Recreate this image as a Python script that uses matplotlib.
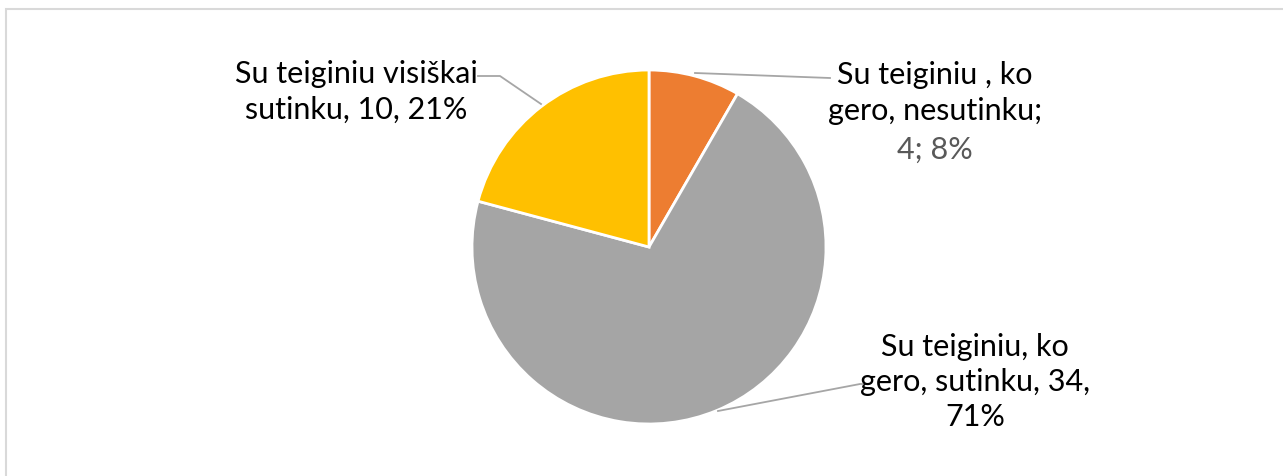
import matplotlib.pyplot as plt
from matplotlib.patches import Rectangle

# Pie data
labels = ["Su teiginiu , ko\ngero, nesutinku;", "Su teiginiu, ko\ngero, sutinku, 34,\n71%", "Su teiginiu visiškai\nsutinku, 10, 21%"]
values = [4, 34, 10]
colors = ["#ED7D31", "#A5A5A5", "#FFC000"]

plt.rcParams['font.family'] = ['Lato', 'DejaVu Sans']

W, H = 1283, 477
fig = plt.figure(figsize=(W / 100, H / 100), dpi=100)
fig.patches.append(Rectangle((6 / W, -0.1), 1.1, (477 - 10) / H + 0.1, transform=fig.transFigure,
                             fill=False, edgecolor="#d9d9d9", linewidth=1.5))

cx, cy, r = 649, 248, 177
ax = fig.add_axes([(cx - r) / W, (H - cy - r) / H, 2 * r / W, 2 * r / H])

ax.pie(values, colors=colors, startangle=90, counterclock=False, radius=1,
       wedgeprops=dict(edgecolor="white", linewidth=2))
ax.set_xlim(-1, 1)
ax.set_ylim(-1, 1)
ax.axis("off")


def px(x, y):
    return (x - cx) / r, (cy - y) / r


lc = "#a6a6a6"
fs = 22
ls = 1.32
# leader lines
for pts in [[(695, 74), (830, 79)],
            [(541, 105), (500, 77), (478, 77)],
            [(718, 412), (860, 385), (866, 385)]]:
    xs, ys = zip(*[px(*p) for p in pts])
    ax.plot(xs, ys, color=lc, linewidth=1.3, clip_on=False)

ax.text(*px(935, 93), labels[0], ha="center", va="center", fontsize=fs, color="black",
        linespacing=ls, clip_on=False)
ax.text(*px(935, 150), "4; 8%", ha="center", va="center", fontsize=fs, color="#595959", clip_on=False)
ax.text(*px(975, 382), labels[1], ha="center", va="center", fontsize=fs, color="black",
        linespacing=ls, clip_on=False)
ax.text(*px(356, 92), labels[2], ha="center", va="center", fontsize=fs, color="black",
        linespacing=ls, clip_on=False)

fig.savefig("out.png", dpi=100)
